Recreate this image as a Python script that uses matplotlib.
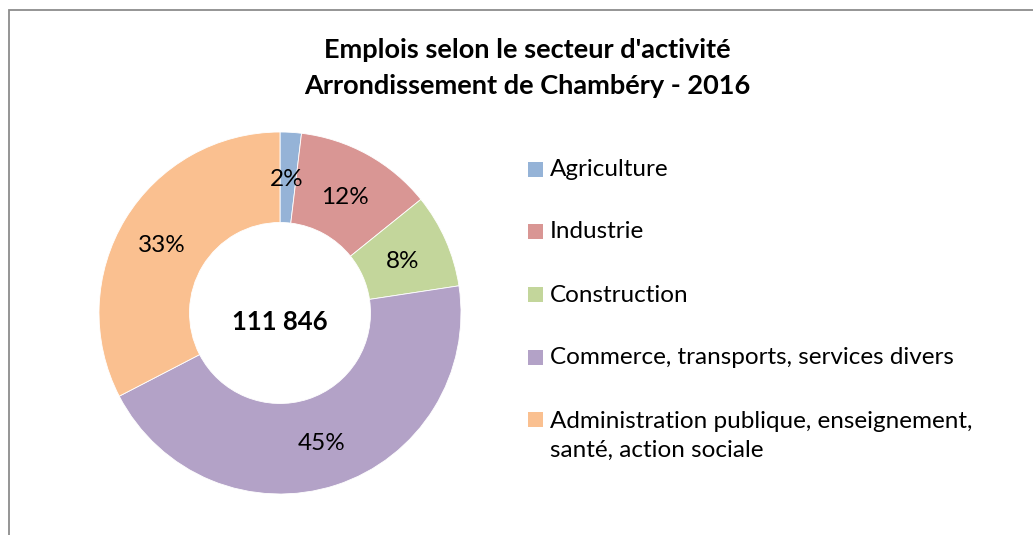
import matplotlib.pyplot as plt
from matplotlib.patches import Rectangle

plt.rcParams['font.family'] = ['Lato', 'DejaVu Sans']

# data
categories = ["Agriculture", "Industrie", "Construction",
              "Commerce, transports, services divers",
              "Administration publique, enseignement,\nsanté, action sociale"]
shares = [1.9, 12.3, 8.4, 44.8, 32.6]
pct_labels = ["2%", "12%", "8%", "45%", "33%"]
colors = ["#95B3D7", "#D99694", "#C3D69B", "#B3A2C7", "#FAC090"]
total_label = "111 846"
title = "Emplois selon le secteur d'activité\nArrondissement de Chambéry - 2016"

W, H = 1033, 535
fig = plt.figure(figsize=(W / 100, H / 100), dpi=100)

# outer frame (cropped on right/bottom)
fig.patches.append(Rectangle((9 / W, -0.1), 1.2, (H - 10) / H + 0.1, transform=fig.transFigure,
                             fill=False, edgecolor="#8c8c8c", linewidth=1.3))

# donut
cx, cy, R = 280, 313, 181
ax = fig.add_axes([(cx - R) / W, (H - cy - R) / H, 2 * R / W, 2 * R / H])
ax.pie(shares, colors=colors, startangle=90, counterclock=False, radius=1.0,
       wedgeprops=dict(width=0.5, edgecolor="white", linewidth=0.6))
ax.set_xlim(-1, 1)
ax.set_ylim(-1, 1)
ax.set_aspect("equal")

# percentage labels inside ring (offset like the original)
label_pos = [(287, 180), (345, 197), (403, 262), (322, 444), (162, 245)]
for (px, py), lab in zip(label_pos, pct_labels):
    ax.text((px - cx) / R, (cy - py) / R, lab, ha="center", va="center",
            fontsize=17.5, color="#000000")
ax.text(0, (cy - 322) / R, total_label, ha="center", va="center",
        fontsize=18.5, fontweight="bold")

# title
fig.text(527 / W, 1 - 68 / H, title, ha="center", va="center", fontsize=19.5,
         fontweight="bold", linespacing=1.55)

# legend drawn by hand
rows_y = [170, 232, 295, 358, 420]
for y, cat, col in zip(rows_y, categories, colors):
    fig.patches.append(Rectangle((528 / W, 1 - (y + 7) / H), 15 / W, 15 / H,
                                 transform=fig.transFigure, facecolor=col, edgecolor="none"))
    if "\n" in cat:
        fig.text(550 / W, 1 - (y - 9) / H, cat, ha="left", va="top",
                 fontsize=17.5, linespacing=1.48)
    else:
        fig.text(550 / W, 1 - y / H, cat, ha="left", va="center", fontsize=17.5)

fig.savefig("out.png", dpi=100)
